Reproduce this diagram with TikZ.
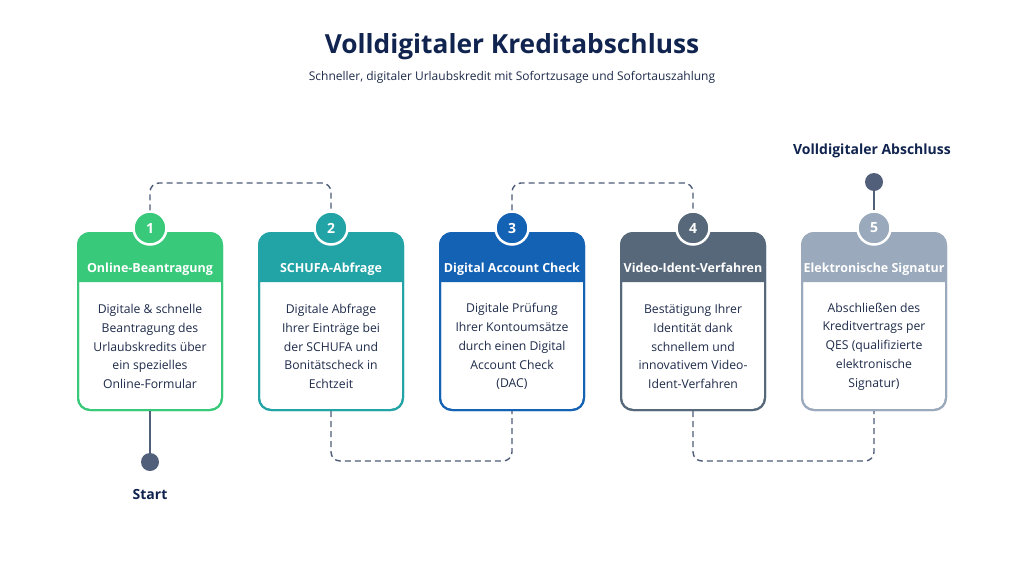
\documentclass[tikz,border=0pt]{standalone}
\usepackage{fontspec}
\setmainfont{Open Sans}
\usetikzlibrary{calc}
\definecolor{cA}{HTML}{38C97A}
\definecolor{cB}{HTML}{22A3A6}
\definecolor{cC}{HTML}{1462B4}
\definecolor{cD}{HTML}{566879}
\definecolor{cE}{HTML}{9AA9BB}
\definecolor{navy}{HTML}{10244F}
\definecolor{txt}{HTML}{1E2B4A}
\definecolor{dotc}{HTML}{525F7B}
\definecolor{conn}{HTML}{4F5D78}
\tikzset{
  cardbox/.style={draw=#1, line width=2pt, rounded corners=12pt, minimum width=144pt, minimum height=177pt, inner sep=0pt},
  headtext/.style={text=white, anchor=base, font=\fontsize{12.5}{15}\selectfont\bfseries},
  bodytext/.style={text=txt, align=center, font=\fontsize{12.2}{18.8}\selectfont},
  numcirc/.style={circle, fill=#1, draw=white, line width=2.5pt, minimum size=33pt, inner sep=0pt, text=white, font=\fontsize{14}{16}\selectfont\bfseries},
  enddot/.style={circle, fill=dotc, minimum size=18pt, inner sep=0pt},
  dashconn/.style={draw=conn, line width=1.4pt, dash pattern=on 6pt off 4pt, rounded corners=9pt},
  solidconn/.style={draw=dotc, line width=1.4pt},
  biglabel/.style={text=navy, font=\fontsize{14}{16}\selectfont\bfseries},
}
\begin{document}
\begin{tikzpicture}[x=1pt,y=-1pt]
\useasboundingbox[fill=white] (0,0) rectangle (1024,576);
\node[text=navy, font=\fontsize{26.3}{30}\selectfont\bfseries] (title) at (512,47) {Volldigitaler Kreditabschluss};
\node[text=txt, font=\fontsize{12}{14}\selectfont] (subtitle) at (512,77) {Schneller, digitaler Urlaubskredit mit Sofortzusage und Sofortauszahlung};
\coordinate (topy) at (0,183);
\coordinate (boty) at (0,461);
% cards
\foreach \i/\x/\c/\h/\b in {
 1/150/cA/Online-Beantragung/{Digitale \& schnelle\\Beantragung des\\Urlaubskredits über\\ein spezielles\\Online-Formular},
 2/331/cB/SCHUFA-Abfrage/{Digitale Abfrage\\Ihrer Einträge bei\\der SCHUFA und\\Bonitätscheck in\\Echtzeit},
 3/512/cC/Digital Account Check/{Digitale Prüfung\\Ihrer Kontoumsätze\\durch einen Digital\\Account Check\\(DAC)},
 4/693/cD/Video-Ident-Verfahren/{Bestätigung Ihrer\\Identität dank\\schnellem und\\innovativem Video-\\Ident-Verfahren},
 5/874/cE/Elektronische Signatur/{Abschließen des\\Kreditvertrags per\\QES (qualifizierte\\elektronische\\Signatur)}} {
  \node[cardbox=\c, fill=white] (card\i) at (\x,321.5) {};
  \fill[\c] (\x-72,282) [rounded corners=12pt] -- (\x-72,233) -- (\x+72,233) [sharp corners] -- (\x+72,282) -- cycle;
  \node[cardbox=\c] at (card\i) {};
  \node[headtext] (head\i) at (\x,272) {\h};
  \node[bodytext] (body\i) at (\x,346.5) {\b};
  \node[numcirc=\c] (num\i) at (\x,228) {\i};
}
% dashed connectors
\draw[dashconn] (num1.north) -- (num1.north |- topy) -- (num2.north |- topy) -- (num2.north);
\draw[dashconn] (num3.north) -- (num3.north |- topy) -- (num4.north |- topy) -- (num4.north);
\draw[dashconn] (card2.south) -- (card2.south |- boty) -- (card3.south |- boty) -- (card3.south);
\draw[dashconn] (card4.south) -- (card4.south |- boty) -- (card5.south |- boty) -- (card5.south);
% start / end
\node[enddot] (startdot) at (150,462) {};
\node[biglabel] (start) at (150,494.5) {Start};
\draw[solidconn] (card1.south) -- (startdot.north);
\node[enddot] (enddot) at (874,182) {};
\node[biglabel] (endlabel) at (872,150.5) {Volldigitaler Abschluss};
\draw[solidconn] (enddot.south) -- (num5.north);
\end{tikzpicture}
\end{document}
